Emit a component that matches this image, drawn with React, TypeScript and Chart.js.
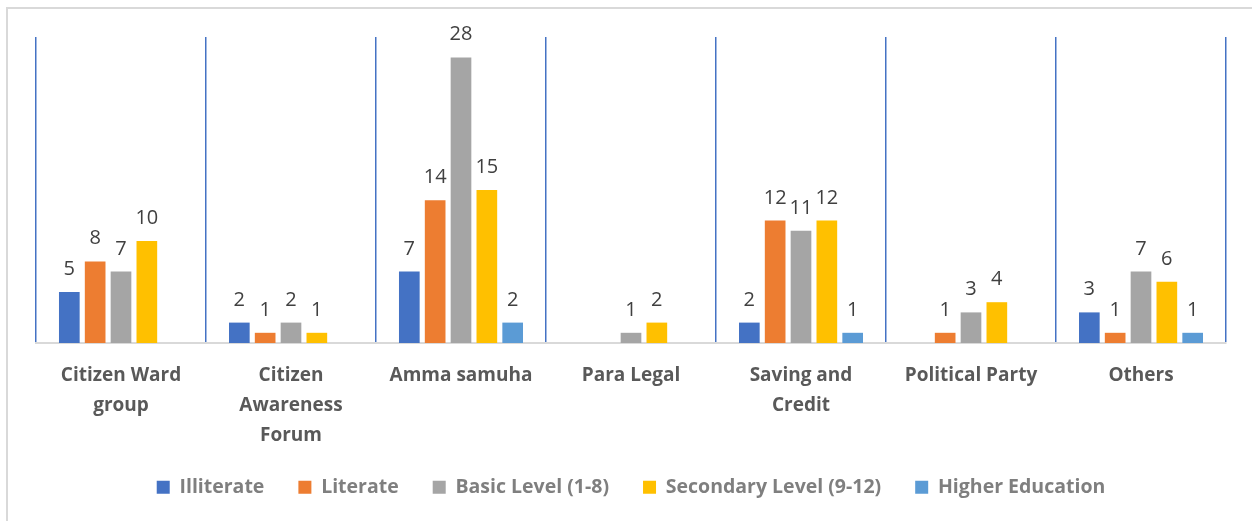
import React, { useEffect, useRef } from "react";
import { Chart, registerables } from "chart.js";

Chart.register(...registerables);

const categories: (string | string[])[] = [
  ["Citizen Ward", "group"],
  ["Citizen", "Awareness", "Forum"],
  "Amma samuha",
  "Para Legal",
  ["Saving and", "Credit"],
  "Political Party",
  "Others",
];

const illiterate = [5, 2, 7, 0, 2, 0, 3];
const literate = [8, 1, 14, 0, 12, 1, 1];
const basicLevel = [7, 2, 28, 1, 11, 3, 7];
const secondaryLevel = [10, 1, 15, 2, 12, 4, 6];
const higherEducation = [0, 0, 2, 0, 1, 0, 1];

const seriesNames = [
  "Illiterate",
  "Literate",
  "Basic Level (1-8)",
  "Secondary Level (9-12)",
  "Higher Education",
];
const seriesColors = ["#4472c4", "#ed7d31", "#a5a5a5", "#ffc000", "#5b9bd5"];

const FONT = "'Open Sans', Lato, 'Noto Sans', sans-serif";

const valueLabels = {
  id: "valueLabels",
  afterDatasetsDraw(chart: any) {
    const ctx = chart.ctx;
    ctx.save();
    ctx.font = `20px ${FONT}`;
    ctx.fillStyle = "#404040";
    ctx.textAlign = "center";
    ctx.textBaseline = "alphabetic";
    chart.data.datasets.forEach((ds: any, di: number) => {
      const meta = chart.getDatasetMeta(di);
      meta.data.forEach((bar: any, i: number) => {
        const v = ds.data[i];
        if (!v) return;
        ctx.fillText(String(v), bar.x, bar.y - 17);
      });
    });
    ctx.restore();
  },
};

export default function App() {
  const ref = useRef<HTMLCanvasElement>(null);
  useEffect(() => {
    if (!ref.current) return;
    const all = [illiterate, literate, basicLevel, secondaryLevel, higherEducation];
    const chart = new Chart(ref.current, {
      type: "bar",
      data: {
        labels: categories,
        datasets: all.map((d, i) => ({
          label: seriesNames[i],
          data: d,
          backgroundColor: seriesColors[i],
          borderWidth: 0,
          categoryPercentage: 0.76,
          barPercentage: 0.8,
        })),
      },
      options: {
        animation: false,
        responsive: false,
        maintainAspectRatio: false,
        layout: { padding: { left: 36, right: 26, top: 37, bottom: 14 } },
        scales: {
          x: {
            grid: {
              display: true,
              color: "#4472c4",
              lineWidth: 1.5,
              offset: true,
              drawTicks: false,
            },
            border: { display: true, color: "#d9d9d9", width: 2 },
            ticks: {
              color: "#595959",
              padding: 18,
              maxRotation: 0,
              autoSkip: false,
              font: { family: FONT, size: 19, weight: "bold", lineHeight: "30px" } as any,
            },
            afterFit: (scale: any) => {
              scale.height = 100.5;
            },
          },
          y: {
            display: false,
            min: 0,
            max: 30,
          },
        },
        plugins: {
          legend: {
            position: "bottom",
            labels: {
              color: "#7f7f7f",
              boxWidth: 13,
              boxHeight: 13,
              padding: 34,
              font: { family: FONT, size: 19.5, weight: "bold" },
            },
          },
          tooltip: { enabled: false },
        },
      },
      plugins: [valueLabels],
    });
    return () => chart.destroy();
  }, []);
  return (
    <div style={{ position: "fixed", left: 0, top: 0, width: 1252, height: 521, overflow: "hidden", background: "#fff" }}>
      <div
        style={{
          position: "absolute",
          left: 6,
          top: 7,
          width: 1300,
          height: 600,
          border: "2px solid #d9d9d9",
        }}
      />
      <canvas ref={ref} width={1252} height={521} style={{ position: "absolute", left: 0, top: 0 }} />
    </div>
  );
}
